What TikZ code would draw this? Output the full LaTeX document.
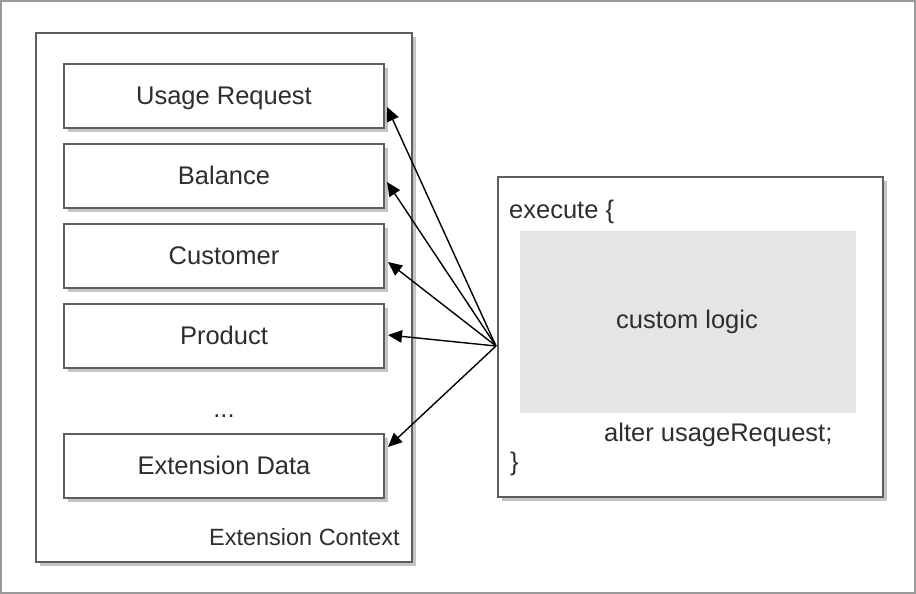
\documentclass[tikz,border=0pt]{standalone}
\usepackage{fontspec}
\setmainfont{Liberation Sans}
\usetikzlibrary{shadows,arrows.meta,calc}
\definecolor{frame}{HTML}{5E5E5E}
\definecolor{outerframe}{HTML}{9A9A9A}
\definecolor{shade}{HTML}{C4C4C4}
\definecolor{logicfill}{HTML}{E5E5E5}
\definecolor{ink}{HTML}{2E2E2E}
\tikzset{
  boxshadow/.style={drop shadow={shadow xshift=4pt, shadow yshift=-4pt, fill=shade, opacity=1}},
  container/.style={draw=frame, line width=2pt, fill=white, boxshadow, inner sep=0pt},
  databox/.style={container, minimum width=320pt, minimum height=64pt,
    text height=18pt, text depth=1pt,
    font=\fontsize{25.5}{30}\selectfont, text=ink},
  label/.style={font=\fontsize{25.5}{30}\selectfont, text=ink, inner sep=0pt},
  arr/.style={line width=1.4pt, -{Triangle[length=14pt, width=12.5pt]}}
}
\begin{document}
\begin{tikzpicture}[x=1pt, y=-1pt]
  \useasboundingbox (0,0) rectangle (916,594);
  % surrounding frame
  \draw[outerframe, line width=2pt] (1,1) rectangle (915,593);

  % extension context container
  \node[container, minimum width=376pt, minimum height=529pt] (ctx) at (224,297.5) {};
  \node[anchor=east, font=\fontsize{23.5}{28}\selectfont, text=ink, inner sep=0pt] (ctxlabel) at (400,537) {Extension Context};

  % data objects in the context
  \node[databox] (ur)  at (224,96)  {Usage Request};
  \node[databox] (bal) at (224,176) {Balance};
  \node[databox] (cus) at (224,256) {Customer};
  \node[databox] (prd) at (224,336) {Product};
  \node[label] (dots) at (224,416) {...};
  \node[databox] (ext) at (224,466) {Extension Data};

  % extension code block
  \node[container, minimum width=385pt, minimum height=320pt] (exec) at (690.5,337) {};
  \node[fill=logicfill, minimum width=336pt, minimum height=182pt, inner sep=0pt] (logic) at (688,322) {};
  \node[label] (logictext) at (687,322) {custom logic};
  \node[label, anchor=west] (execopen) at (509,212) {execute \{};
  \node[label, anchor=west] (alter) at (604,435) {alter usageRequest;};
  \node[label, anchor=west] (execclose) at (510,464) {\}};

  % references from the code block to the context objects
  \coordinate (src) at ($(exec.west)+(-1,9)$);
  \coordinate (t1) at ($(ur.east)+(2,11)$);
  \coordinate (t2) at ($(bal.east)+(2,6)$);
  \coordinate (t3) at ($(cus.east)+(3,6)$);
  \coordinate (t4) at ($(prd.east)+(3,-1)$);
  \coordinate (t5) at ($(ext.east)+(3,-19)$);
  \foreach \t in {t1,t2,t3,t4,t5}
    \draw[arr] (src) -- (\t);
\end{tikzpicture}
\end{document}
